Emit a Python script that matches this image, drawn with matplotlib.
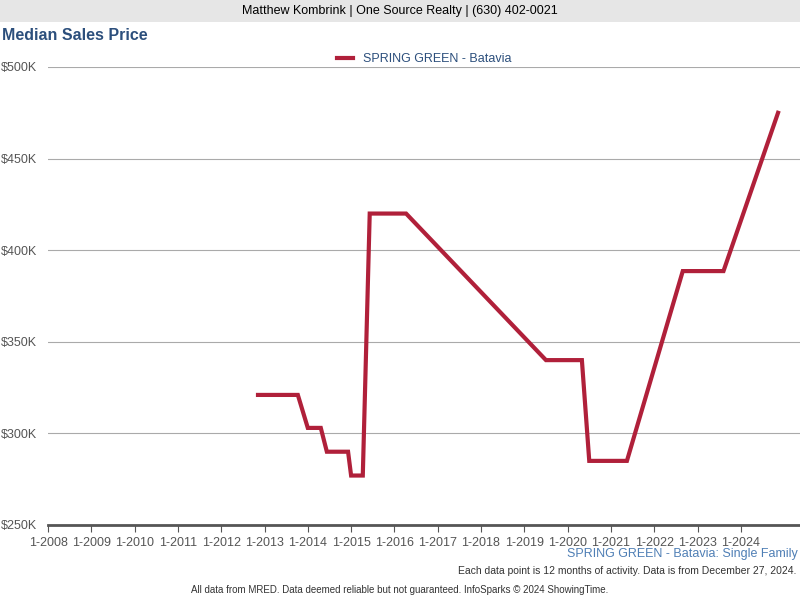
import matplotlib
matplotlib.use("Agg")
import matplotlib.pyplot as plt

years = [2012.85, 2013.77, 2014.0, 2014.3, 2014.44, 2014.93, 2015.0, 2015.27, 2015.43,
         2016.27, 2019.5, 2020.33, 2020.5, 2021.37, 2022.66, 2023.6, 2024.86]
prices = [321, 321, 303, 303, 290, 290, 277, 277, 420,
          420, 340, 340, 285, 285, 388.6, 388.6, 475]
yticks = [250, 300, 350, 400, 450, 500]
xtick_years = list(range(2008, 2025))
xtick_labels = [f"1-{y}" for y in xtick_years]

fig = plt.figure(figsize=(8, 6), dpi=100)
fig.patch.set_facecolor("white")
# banner
fig.patches.append(plt.Rectangle((0, 1 - 22/600), 1, 22/600, transform=fig.transFigure,
                                 facecolor="#e6e6e6", edgecolor="none"))
fig.text(0.5, 1 - 11/600, "Matthew Kombrink | One Source Realty | (630) 402-0021",
         ha="center", va="center", fontsize=9, family="Liberation Sans")
fig.text(2/800, 1 - 35/600, "Median Sales Price", ha="left", va="center", fontsize=11.5,
         fontweight="bold", color="#2c4f7c", family="Liberation Sans")

ax = fig.add_axes([48/800, 1 - 525/600, 752/800, 458/600])
ax.plot(years, prices, color="#b0203a", lw=3, solid_joinstyle="miter",
        label="SPRING GREEN - Batavia")
ax.set_xlim(2008, 2008 + 752/43.3)
ax.set_ylim(250, 500)
ax.set_yticks(yticks)
ax.set_yticklabels([f"${v}K" for v in yticks], color="#555555", fontsize=9, family="Liberation Sans")
ax.set_xticks(xtick_years)
ax.set_xticklabels(xtick_labels, color="#555555", fontsize=9, family="Liberation Sans")
ax.grid(axis="y", color="#aaaaaa", lw=0.8)
ax.set_axisbelow(True)
for s in ["top", "right", "left"]:
    ax.spines[s].set_visible(False)
ax.spines["bottom"].set_color("#555555")
ax.spines["bottom"].set_linewidth(2)
ax.tick_params(axis="y", length=0, pad=8)
ax.tick_params(axis="x", length=5, color="#555555")
leg = ax.legend(loc="upper center", bbox_to_anchor=(0.5, 1.055), frameon=False,
                fontsize=9, handlelength=1.3, prop={"family": "Liberation Sans", "size": 9})
for t in leg.get_texts():
    t.set_color("#2c4f7c")

fig.text(798/800, 1 - 554/600, "SPRING GREEN - Batavia: Single Family", ha="right", va="center",
         fontsize=9, color="#4f7fb5", family="Liberation Sans")
fig.text(796/800, 1 - 571/600, "Each data point is 12 months of activity. Data is from December 27, 2024.",
         ha="right", va="center", fontsize=7.5, color="#333333", family="Liberation Sans")
fig.text(400/800, 1 - 590/600, "All data from MRED. Data deemed reliable but not guaranteed. InfoSparks © 2024 ShowingTime.",
         ha="center", va="center", fontsize=7, color="#333333", family="Liberation Sans")
fig.savefig("out.png", dpi=100)
